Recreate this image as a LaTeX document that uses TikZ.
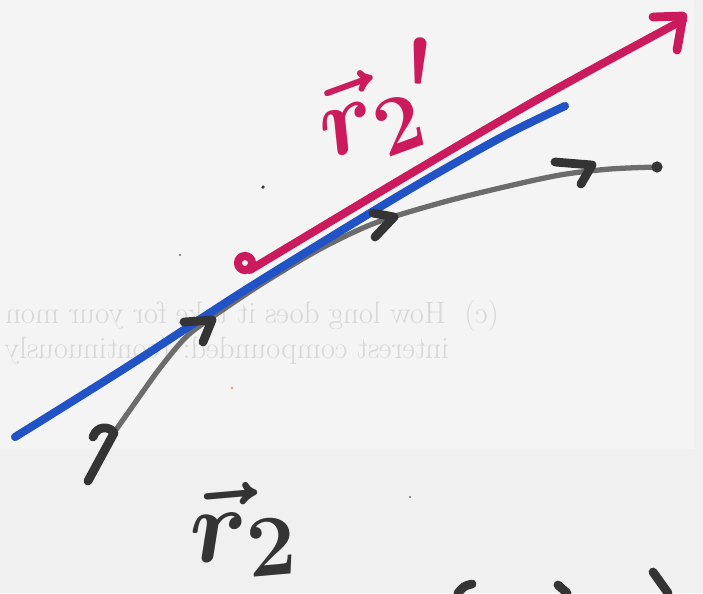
\documentclass[tikz,border=0pt]{standalone}
\usepackage{amsmath}
\usepackage{tikz}
\usetikzlibrary{positioning}
\definecolor{penpink}{HTML}{CC1B5C}
\definecolor{penblue}{HTML}{2152C6}
\definecolor{pengray}{HTML}{6C6C6C}
\definecolor{penblack}{HTML}{343434}
\definecolor{paper}{HTML}{F4F4F4}
\definecolor{margin}{HTML}{F0F0F0}
\definecolor{showthru}{HTML}{D8D8D8}

\begin{document}
\begin{tikzpicture}[x=0.02cm,y=-0.02cm,
    marker/.style={line cap=round,line join=round},
    hook/.style={marker,draw=penblack,line width=5pt}]
  \fill[margin] (0,0) rectangle (703,593);
  \fill[paper] (0,0) rectangle (694,449);
  \useasboundingbox (0,0) rectangle (703,593);
  % text showing through from the back of the sheet
  \node[anchor=base west,xscale=-1,text=showthru,font=\fontsize{17.6}{20}\selectfont]
    (back1) at (505,323) {(c)\ \ How long does it take for your mon};
  \node[anchor=base west,xscale=-1,text=showthru,font=\fontsize{17.6}{20}\selectfont]
    (back2) at (455,358) {interest compounded: (continuously};
  \coordinate (curvestart) at (113,434);
  \coordinate (curveend) at (657,167);
  \coordinate (tanstart) at (15,437);
  \coordinate (tanend) at (565,106);
  \coordinate (vecstart) at (250,270);
  \coordinate (vectip) at (683,20);
  \draw[marker,draw=pengray,line width=3pt] plot[smooth] coordinates {(curvestart)
    (137,400) (160,368) (185,338) (208,320) (260,285) (320,249) (375,223)
    (440,203) (500,188) (560,175) (610,169) (curveend)};
  \fill[penblack] (curveend) circle[radius=3.2pt];
  \draw[marker,draw=penblue,line width=4.6pt] plot[smooth] coordinates {(tanstart)
    (130,365) (250,287) (400,195) (500,138) (tanend)};
  \draw[marker,draw=penpink,line width=4.6pt] plot[smooth] coordinates {(vecstart)
    (400,180) (540,98) (vectip)};
  \draw[marker,draw=penpink,line width=5pt] (653,17) -- (683,16) -- (677,50);
  \draw[penpink,line width=4.6pt] (245,263) circle[radius=4pt];
  \foreach \ax/\ay/\bx/\by/\cx/\cy in {555/162/592/165/581/184,
      373/213/394/217/375/237, 184/322/212/320/203/342}{
    \draw[hook] (\ax,\ay) -- (\bx,\by) -- (\cx,\cy);}
  \draw[hook] (93,437) .. controls (97,425) and (110,426) .. (114,433) -- (88,481);
  \node[text=penpink,rotate=20,scale=2.3,font=\Huge]
    (primelabel) at (382,106) {$\boldsymbol{\vec{r}_2{}'}$};
  \node[text=penblack,rotate=5,scale=2.4,font=\Huge]
    (plainlabel) at (243,530) {$\boldsymbol{\vec{r}_2}$};
  \draw[hook] (472,584) .. controls (464,586) .. (458,593);
  \draw[hook] (558,585) -- (567,593);
  \draw[hook] (653,572) -- (668,593);
  \fill[penblack] (263,187) circle[radius=1pt];
  \fill[pengray] (180,255) circle[radius=0.6pt];
  \fill[orange!70] (232,388) circle[radius=0.8pt];
  \fill[pengray] (410,497) circle[radius=0.6pt];
\end{tikzpicture}
\end{document}
